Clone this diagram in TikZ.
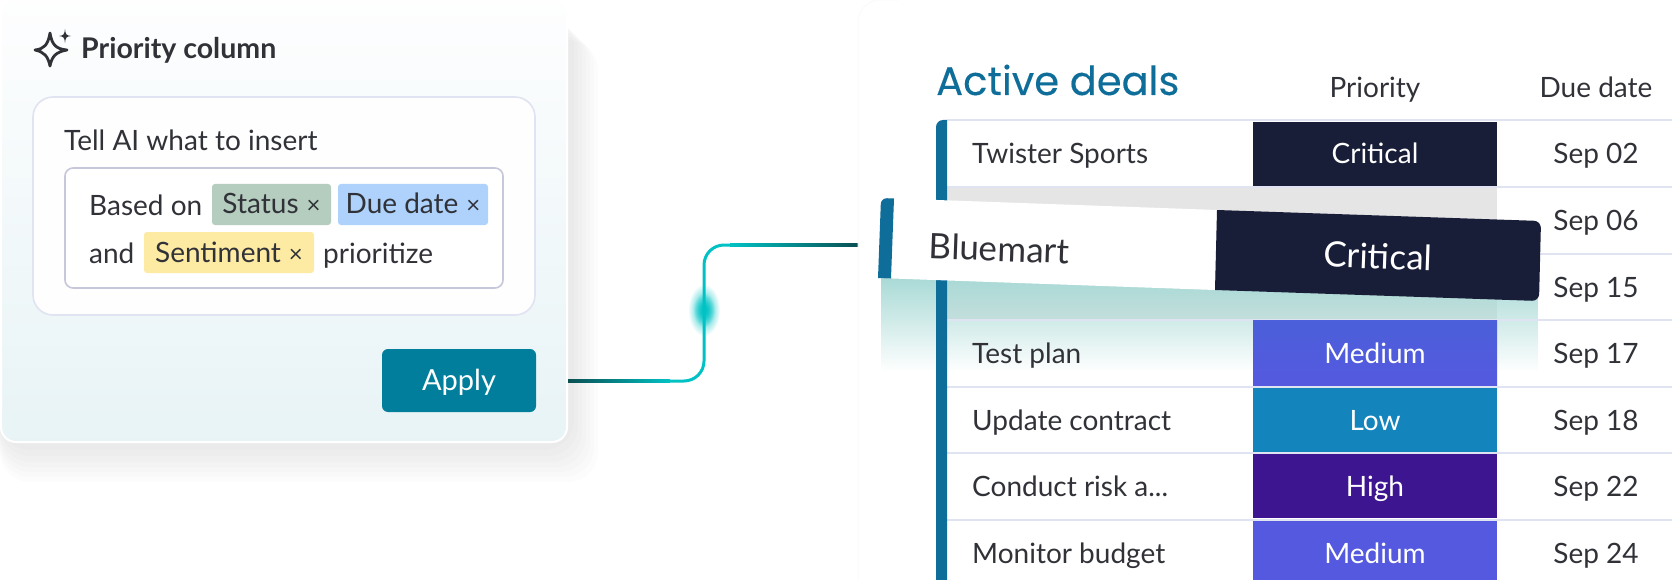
\documentclass[tikz,border=0pt]{standalone}
\usepackage{fontspec}
\setmainfont{Lato}
\newfontfamily\titlefont[FakeBold=0.25]{Poppins}
\usetikzlibrary{fadings}
\definecolor{ink}{HTML}{303238}
\definecolor{barblue}{HTML}{0F6E99}
\definecolor{critcol}{HTML}{181D38}
\definecolor{medcol}{HTML}{5559DF}
\definecolor{lowcol}{HTML}{1384BC}
\definecolor{highcol}{HTML}{3E1590}
\definecolor{gridcol}{HTML}{E0E3F1}
\definecolor{applycol}{HTML}{007E9B}
\definecolor{cyancol}{HTML}{00C2C4}
\definecolor{darkline}{HTML}{0A4F52}
\definecolor{chipgreen}{HTML}{B5CDBF}
\definecolor{chipblue}{HTML}{AED2FB}
\definecolor{chipyellow}{HTML}{FDEAA3}
\definecolor{boxline}{HTML}{C6C7DA}
\definecolor{liftglow}{HTML}{A9DAD6}
\newcommand{\chipx}{\hspace{8pt}{\fontsize{24}{26}\selectfont×}}
\tikzfading[name=fadedown, top color=transparent!0, bottom color=transparent!100]
\tikzfading[name=glowfade, inner color=transparent!0, outer color=transparent!100]
\tikzset{
  txt/.style={text=ink,font=\fontsize{28}{32}\selectfont,inner sep=0pt,anchor=base west},
  chip/.style={txt,anchor=center,rounded corners=3pt,minimum height=41pt,text height=24pt,text depth=5pt},
  namecell/.style={txt,anchor=west,text height=24pt,text depth=4pt},
  datecell/.style={txt,anchor=center,text height=24pt,text depth=4pt},
  pcell/.style={anchor=center,text=white,font=\fontsize{28}{32}\selectfont,inner sep=0pt,
    minimum width=244pt,minimum height=64.5pt,text height=24pt,text depth=4pt},
  cardshadow/.style={fill=black,fill opacity=0.01,rounded corners=30pt},
  link/.style={line width=3pt,cyancol,rounded corners=20pt}
}
\begin{document}
\begin{tikzpicture}[x=1pt,y=-1pt]
\useasboundingbox (0,0) rectangle (1672,580);

% shadow of the card
\fill[cardshadow] (0,40) rectangle (598,482);
\fill[cardshadow] (0,36) rectangle (594,477);
\fill[cardshadow] (0,32) rectangle (590,472);
\fill[cardshadow] (0,28) rectangle (586,467);
\fill[cardshadow] (0,24) rectangle (582,462);
\fill[cardshadow] (0,20) rectangle (578,456);
\fill[cardshadow] (0,16) rectangle (574,450);

% card on the left
\shade[top color=white!96!gridcol,bottom color=applycol!9!white,middle color=applycol!5!white,
  draw=white,line width=2pt,rounded corners=15pt] (1,-1) rectangle (567,442);
\node[txt,font=\fontsize{28.5}{32}\selectfont\bfseries] (head) at (81,59) {Priority column};
\draw[ink,line width=2.8pt,line join=round] (50,33) .. controls (52,45) and (56,49) .. (67,50)
  .. controls (56,52) and (52,56) .. (50,66) .. controls (48,56) and (44,52) .. (35,50)
  .. controls (44,49) and (48,45) .. (50,33) -- cycle;
\fill[ink] (65,29) .. controls (65.5,34.5) and (66.5,35.5) .. (71,36) .. controls (66.5,36.5) and (65.5,37.5) .. (65,43)
  .. controls (64.5,37.5) and (63.5,36.5) .. (59,36) .. controls (63.5,35.5) and (64.5,34.5) .. (65,29) -- cycle;

\fill[white!97!gridcol,draw=gridcol,line width=1.6pt,rounded corners=20pt] (33,97) rectangle (535,315);
\node[txt] (ask) at (64,151) {Tell AI what to insert};
\fill[white,draw=boxline,line width=1.6pt,rounded corners=8pt] (65,168) rectangle (503,288);

% text in the box
\node[txt] (based) at (89,215) {Based on};
\node[chip,fill=chipgreen,minimum width=119pt] (status) at (271.5,204.5) {Status\chipx};
\node[chip,fill=chipblue,minimum width=150pt] (due) at (413,204.5) {Due date\chipx};
\node[txt] (and) at (89,263) {and};
\node[chip,fill=chipyellow,minimum width=170pt] (sent) at (229,252.5) {Sentiment\chipx};
\node[txt] (prio) at (323,263) {prioritize};

\node[anchor=center,fill=applycol,text=white,rounded corners=6pt,minimum width=154pt,minimum height=63pt,
  font=\fontsize{29}{32}\selectfont,text height=25pt,text depth=6pt] (apply) at (459,380.5) {Apply};

% connector
\coordinate (a) at (568,381);
\coordinate (b) at (858,245);
\draw[link] (a) -| (704,245) -- (b);
\shade[left color=darkline,right color=cyancol] (568,379.5) rectangle (670,382.5);
\shade[left color=cyancol,right color=darkline] (730,243.5) rectangle (858,246.5);
\fill[cyancol,path fading=glowfade] (704,310) ellipse (16 and 26);
\fill[cyancol,path fading=glowfade] (704,310) ellipse (11 and 17);

% table on the right
\draw[black!2,line width=1pt,rounded corners=22pt] (858,580) -- (858,0) -- (900,0);
\node[txt,font=\fontsize{40}{44}\selectfont\titlefont,text=barblue] (title) at (936,95) {Active deals};
\node[datecell] (hp) at (1375,88) {Priority};
\node[datecell] (hd) at (1596,88) {Due date};

% grey space of the lifted row
\fill[black!10] (947,187) rectangle (1497,320);
\fill[liftglow,path fading=fadedown] (881,278) rectangle (1539,372);

% rows
\draw[gridcol,line width=2pt] (947,120.5) -- (1672,120.5);
\draw[gridcol,line width=2pt] (947,187) -- (1672,187);
\draw[gridcol,line width=2pt] (1497,253.5) -- (1672,253.5);
\draw[gridcol,line width=2pt] (947,320) -- (1672,320);
\draw[gridcol,line width=2pt] (947,386.5) -- (1672,386.5);
\draw[gridcol,line width=2pt] (947,453) -- (1672,453);
\draw[gridcol,line width=2pt] (947,519.5) -- (1672,519.5);
\fill[barblue] (936,582) [rounded corners=7pt] -- (936,120) [sharp corners] -- (947,120) -- (947,582) -- cycle;

\node[namecell] (n1) at (972,154) {Twister Sports};
\node[pcell,fill=critcol] (p1) at (1375,154) {Critical};
\node[datecell] (d1) at (1596,154) {Sep 02};
\node[datecell] (d2) at (1596,220) {Sep 06};
\node[datecell] (d3) at (1596,287) {Sep 15};
\node[namecell] (n4) at (972,353) {Test plan};
\node[pcell,top color=medcol!85!lowcol,bottom color=medcol] (p4) at (1375,353) {Medium};
\node[datecell] (d4) at (1596,353) {Sep 17};
\node[namecell] (n5) at (972,420) {Update contract};
\node[pcell,fill=lowcol] (p5) at (1375,420) {Low};
\node[datecell] (d5) at (1596,420) {Sep 18};
\node[namecell] (n6) at (972,486) {Conduct risk a...};
\node[pcell,fill=highcol] (p6) at (1375,486) {High};
\node[datecell] (d6) at (1596,486) {Sep 22};
\node[namecell] (n7) at (972,553) {Monitor budget};
\node[pcell,fill=medcol] (p7) at (1375,553) {Medium};
\node[datecell] (d7) at (1596,553) {Sep 24};

% lifted row
\fill[white] (881,198) -- (1217,210) -- (1215,290) -- (878,278) -- cycle;
\fill[barblue] (878,278) [rounded corners=6pt] -- (881,198) [sharp corners] -- (894,198.5) -- (891,278.5) -- cycle;
\fill[critcol] (1215,290) -- (1217,210) [rounded corners=7pt] -- (1541,221) -- (1539,301) [sharp corners] -- (1215,290) -- cycle;
\node[txt,anchor=west,rotate=-2,font=\fontsize{35}{40}\selectfont] (lname) at (929,246) {Bluemart};
\node[anchor=center,rotate=-2,text=white,inner sep=0pt,font=\fontsize{35}{40}\selectfont] (lprio) at (1378,256) {Critical};

\end{tikzpicture}
\end{document}
